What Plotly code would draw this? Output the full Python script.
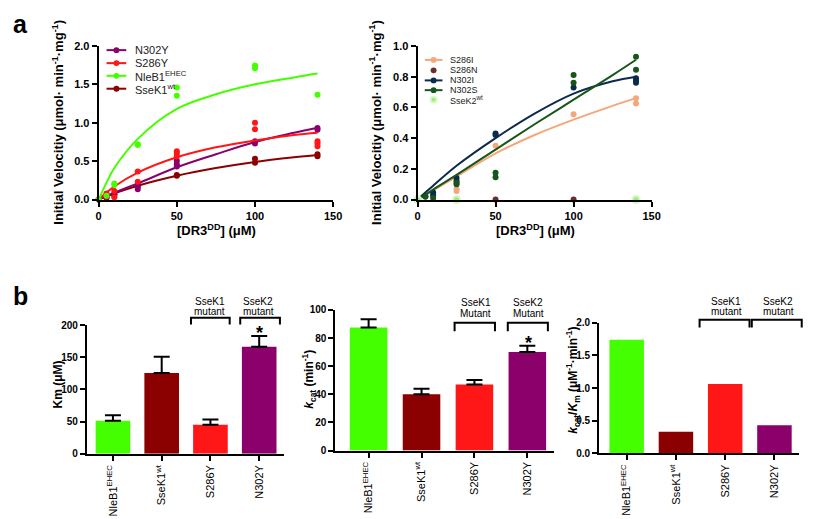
import plotly.graph_objects as go

# The page body has an 8px margin; compensate so positions match the 813x519 window.
OFF = 8
W, H = 813 - OFF, 519 - OFF
FONT = "Liberation Sans, Arial, sans-serif"


def px(x):
    return (x - OFF) / W


def py(y):
    return 1 - (y - OFF) / H


# ---------------- Panel a (left): SseK1 variants ----------------
n302y_x = [0, 5, 10, 10, 25, 25, 50, 50, 50, 100, 100, 140, 140]
n302y_y = [0, 0.02, 0.07, 0.05, 0.165, 0.135, 0.505, 0.46, 0.43, 0.76, 0.73, 0.93, 0.91]
s286y_x = [0, 5, 5, 10, 10, 25, 25, 50, 50, 50, 100, 100, 140, 140, 140]
s286y_y = [0, 0.08, 0.04, 0.11, 0.03, 0.365, 0.23, 0.63, 0.60, 0.56, 1.0, 0.915, 0.76, 0.73, 0.695]
nleb1_x = [0, 5, 10, 10, 25, 25, 50, 50, 100, 100, 140]
nleb1_y = [0, 0.05, 0.21, 0.19, 0.72, 0.71, 1.46, 1.35, 1.745, 1.71, 1.364]
ssek1_x = [0, 5, 10, 25, 25, 50, 50, 100, 100, 140, 140]
ssek1_y = [0, 0.03, 0.07, 0.20, 0.18, 0.32, 0.31, 0.53, 0.48, 0.59, 0.565]

fit_x = [0, 5, 10, 25, 50, 75, 100, 125, 140]
n302y_fit = [0, 0.045, 0.09, 0.21, 0.42, 0.59, 0.75, 0.87, 0.935]
s286y_fit = [0, 0.09, 0.17, 0.35, 0.55, 0.68, 0.77, 0.84, 0.87]
nleb1_fit = [0, 0.22, 0.41, 0.79, 1.18, 1.37, 1.50, 1.59, 1.64]
ssek1_fit = [0, 0.04, 0.08, 0.18, 0.31, 0.41, 0.49, 0.55, 0.58]

# ---------------- Panel a (right): SseK2 variants ----------------
s286i_x = [0, 5, 10, 25, 25, 50, 100, 140, 140]
s286i_y = [0, 0.02, 0.02, 0.07, 0.055, 0.35, 0.555, 0.66, 0.625]
s286n_x = [0, 50, 100]
s286n_y = [0, 0, 0]
n302i_x = [0, 5, 10, 10, 25, 25, 50, 50, 100, 140, 140, 140]
n302i_y = [0, 0.02, 0.045, 0.03, 0.14, 0.12, 0.43, 0.42, 0.73, 0.79, 0.775, 0.76]
n302s_x = [0, 5, 10, 25, 25, 50, 50, 100, 100, 140, 140]
n302s_y = [0, 0.02, 0.01, 0.11, 0.10, 0.175, 0.145, 0.81, 0.76, 0.93, 0.845]
ssek2_x = [0, 25, 140]
ssek2_y = [0, 0, 0]

s286i_fit = [0, 0.03, 0.06, 0.15, 0.30, 0.42, 0.52, 0.61, 0.66]
n302i_fit = [0, 0.045, 0.09, 0.22, 0.40, 0.56, 0.69, 0.77, 0.80]
n302s_fit = [0, 0.03, 0.065, 0.16, 0.325, 0.49, 0.65, 0.81, 0.91]

# ---------------- Panel b: kinetic parameters ----------------
strains = ["NleB1<sup>EHEC</sup>", "SseK1<sup>wt</sup>", "S286Y", "N302Y"]
km_mean = [51.5, 125.5, 45, 166.6]
km_err = [8.2, 25.5, 8.2, 16.7]
kcat_mean = [87.5, 40, 47, 70.1]
kcat_err = [5.8, 4.0, 3.2, 4.4]
eff_mean = [1.74, 0.33, 1.06, 0.43]

C_NLEB1 = "#44ff00"
C_SSEK1 = "#8b0000"
C_S286Y = "#ff1616"
C_N302Y = "#8b006b"
C_S286I = "#f5a77c"
C_S286N = "#6e2d2d"
C_N302I = "#0b2a4c"
C_N302S = "#17561a"
C_SSEK2 = "#9ced7c"
bar_colors = [C_NLEB1, C_SSEK1, C_S286Y, C_N302Y]

fig = go.Figure()


def add_series(xs, ys, fx, fy, color, xa, ya, msize=6):
    if fy is not None:
        fig.add_trace(go.Scatter(x=fx, y=fy, mode="lines", line=dict(color=color, width=2, shape="spline"),
                                 xaxis=xa, yaxis=ya, hoverinfo="skip", cliponaxis=False))
    fig.add_trace(go.Scatter(x=xs, y=ys, mode="markers", marker=dict(color=color, size=msize),
                             xaxis=xa, yaxis=ya, cliponaxis=False))


add_series(ssek1_x, ssek1_y, fit_x, ssek1_fit, C_SSEK1, "x", "y")
add_series(n302y_x, n302y_y, fit_x, n302y_fit, C_N302Y, "x", "y")
add_series(s286y_x, s286y_y, fit_x, s286y_fit, C_S286Y, "x", "y")
add_series(nleb1_x, nleb1_y, fit_x, nleb1_fit, C_NLEB1, "x", "y")

add_series(s286i_x, s286i_y, fit_x, s286i_fit, C_S286I, "x2", "y2")
add_series(n302i_x, n302i_y, fit_x, n302i_fit, C_N302I, "x2", "y2")
add_series(n302s_x, n302s_y, fit_x, n302s_fit, C_N302S, "x2", "y2")
add_series(s286n_x, s286n_y, None, None, C_S286N, "x2", "y2")
fig.add_trace(go.Scatter(x=ssek2_x, y=ssek2_y, mode="markers",
                         marker=dict(color=C_SSEK2, size=7, line=dict(color="#d8f7c8", width=2)),
                         xaxis="x2", yaxis="y2", cliponaxis=False))

err_style = dict(type="data", symmetric=False, color="black", thickness=2, width=8)
fig.add_trace(go.Bar(x=strains, y=km_mean, marker=dict(color=bar_colors, line=dict(width=0)), width=0.71,
                     error_y=dict(array=km_err, arrayminus=[0] * 4, **err_style), xaxis="x3", yaxis="y3"))
fig.add_trace(go.Bar(x=strains, y=kcat_mean, marker=dict(color=bar_colors, line=dict(width=0)), width=0.71,
                     error_y=dict(array=kcat_err, arrayminus=[0] * 4, **err_style), xaxis="x4", yaxis="y4"))
fig.add_trace(go.Bar(x=strains, y=eff_mean, marker=dict(color=bar_colors, line=dict(width=0)), width=0.70,
                     xaxis="x5", yaxis="y5"))

tickfont_b = dict(family=FONT, size=11, color="black", weight="bold")
tickfont_bb = dict(family=FONT, size=10, color="black", weight="bold")
catfont = dict(family=FONT, size=11, color="black")
axis_common = dict(showline=True, linecolor="black", linewidth=2, ticks="outside", ticklen=5,
                   tickwidth=2, tickcolor="black", showgrid=False, zeroline=False, fixedrange=True)


def ydom(top, bottom):
    return [py(bottom), py(top)]


fig.update_layout(
    width=W, height=H, margin=dict(l=0, r=0, t=0, b=0),
    paper_bgcolor="white", plot_bgcolor="white", showlegend=False, bargap=0.3,
    xaxis=dict(domain=[px(97), px(335)], range=[0, 150], tickvals=[0, 50, 100, 150],
               tickfont=tickfont_b, anchor="y", **axis_common),
    yaxis=dict(domain=ydom(40.7, 198), range=[0, 2], dtick=0.5, tickformat=".1f",
               tickfont=tickfont_b, anchor="x", **axis_common),
    xaxis2=dict(domain=[px(420.7), px(658.3)], range=[0, 150], tickvals=[0, 50, 100, 150],
                tickfont=tickfont_b, anchor="y2", **axis_common),
    yaxis2=dict(domain=ydom(40.7, 198), range=[0, 1], dtick=0.2, tickformat=".1f",
                tickfont=tickfont_b, anchor="x2", **axis_common),
    xaxis3=dict(domain=[px(85), px(284.7)], range=[-0.535, 3.5], tickangle=-90,
                tickfont=catfont, anchor="y3", **axis_common),
    yaxis3=dict(domain=ydom(326.7, 458.3), range=[0, 200], dtick=50,
                tickfont=tickfont_bb, anchor="x3", **axis_common),
    xaxis4=dict(domain=[px(337.3), px(559)], range=[-0.628, 3.5], tickangle=-90,
                tickfont=catfont, anchor="y4", **axis_common),
    yaxis4=dict(domain=ydom(311, 455), range=[0, 100], dtick=20,
                tickfont=tickfont_bb, anchor="x4", **axis_common),
    xaxis5=dict(domain=[px(605), px(808)], range=[-0.56, 3.5], tickangle=-90,
                tickfont=catfont, anchor="y5", **axis_common),
    yaxis5=dict(domain=ydom(324.3, 457.7), range=[0, 2], dtick=0.5, tickformat=".1f",
                tickfont=tickfont_bb, anchor="x5", **axis_common),
)

annotations = []
shapes = []


def text(x, y, s, size=10, bold=False, angle=0, xanchor="center", yanchor="middle", color="black"):
    annotations.append(dict(x=px(x), y=py(y), xref="paper", yref="paper", text=s, showarrow=False,
                            textangle=angle, xanchor=xanchor, yanchor=yanchor,
                            font=dict(family=FONT, size=size, color=color,
                                      weight="bold" if bold else "normal")))


# panel letters
text(8, 2, "a", size=25, bold=True, xanchor="left", yanchor="top")
text(8, 280, "b", size=25, bold=True, xanchor="left", yanchor="top")

# axis titles panel a
vel = "Initial Velocitiy (\u03bcmol\u00b7 min<sup>-1</sup>\u00b7mg<sup>-1</sup>)"
text(56, 119, vel, size=13, bold=True, angle=-90)
text(378, 119, vel, size=13, bold=True, angle=-90)
text(217, 229, "[DR3<sup>DD</sup>] (\u03bcM)", size=13, bold=True)
text(540, 229, "[DR3<sup>DD</sup>] (\u03bcM)", size=13, bold=True)

# axis titles panel b
text(56, 387, "Km (\u03bcM)", size=12, bold=True, angle=-90)
text(311, 382, "<i>k</i><sub>cat</sub> (min<sup>-1</sup>)", size=12, bold=True, angle=-90)
text(579, 383, "<i>k</i><sub>cat</sub>/<i>K</i><sub>m</sub> (\u03bcM<sup>-1</sup>\u00b7min<sup>-1</sup>)",
     size=12, bold=True, angle=-90)


# legends
def legend_item(x0, x1, xm, xt, y, label, color, size, line=True, halo=False):
    if line:
        shapes.append(dict(type="line", xref="paper", yref="paper", x0=px(x0), x1=px(x1), y0=py(y), y1=py(y),
                           line=dict(color=color, width=2)))
    r = 3
    shapes.append(dict(type="circle", xref="paper", yref="paper", x0=px(xm - r), x1=px(xm + r),
                       y0=py(y + r), y1=py(y - r), fillcolor=color,
                       line=dict(color="#d8f7c8" if halo else color, width=2 if halo else 0)))
    text(xt, y, label, size=size, xanchor="left", color="#222222")


legend_item(105, 125, 115, 132, 45, "N302Y", C_N302Y, 11)
legend_item(105, 125, 115, 132, 58.3, "S286Y", C_S286Y, 11)
legend_item(105, 125, 115, 132, 71.3, "NleB1<sup>EHEC</sup>", C_NLEB1, 11)
legend_item(105, 125, 115, 132, 84.5, "SseK1<sup>wt</sup>", C_SSEK1, 11)

legend_item(428, 446, 437, 452, 55, "S286I", C_S286I, 9)
legend_item(428, 446, 437, 452, 65.7, "S286N", C_S286N, 9, line=False)
legend_item(428, 446, 437, 452, 76, "N302I", C_N302I, 9)
legend_item(428, 446, 437, 452, 86, "N302S", C_N302S, 9)
legend_item(428, 446, 437, 452, 95.7, "SseK2<sup>wt</sup>", C_SSEK2, 9, line=False, halo=True)


# brackets
def bracket(x0, x1, ytop, ybot):
    path = (f"M {px(x0)},{py(ybot)} L {px(x0)},{py(ytop)} L {px(x1)},{py(ytop)} L {px(x1)},{py(ybot)}")
    shapes.append(dict(type="path", xref="paper", yref="paper", path=path, line=dict(color="black", width=2)))


bracket(190.7, 230, 319, 326)
bracket(240.7, 281, 319, 326)
text(210, 302, "SseK1", size=10)
text(210, 312.5, "mutant", size=10)
text(259, 302, "SseK2", size=10)
text(259, 312.5, "mutant", size=10)
text(260, 335, "*", size=18, bold=True)

bracket(458.3, 499.3, 324.3, 333)
bracket(512.3, 553, 324.3, 333)
text(480, 303, "SseK1", size=10)
text(480, 314.3, "Mutant", size=10)
text(533, 303, "SseK2", size=10)
text(533, 314.3, "Mutant", size=10)
text(533, 345, "*", size=18, bold=True)

bracket(707, 757.7, 321, 329)
bracket(760, 810.7, 321, 329)
text(734, 302, "SseK1", size=10)
text(734, 312.5, "mutant", size=10)
text(787, 302, "SseK2", size=10)
text(787, 312.5, "mutant", size=10)

fig.update_layout(annotations=annotations, shapes=shapes)
fig.write_html("out.html")
